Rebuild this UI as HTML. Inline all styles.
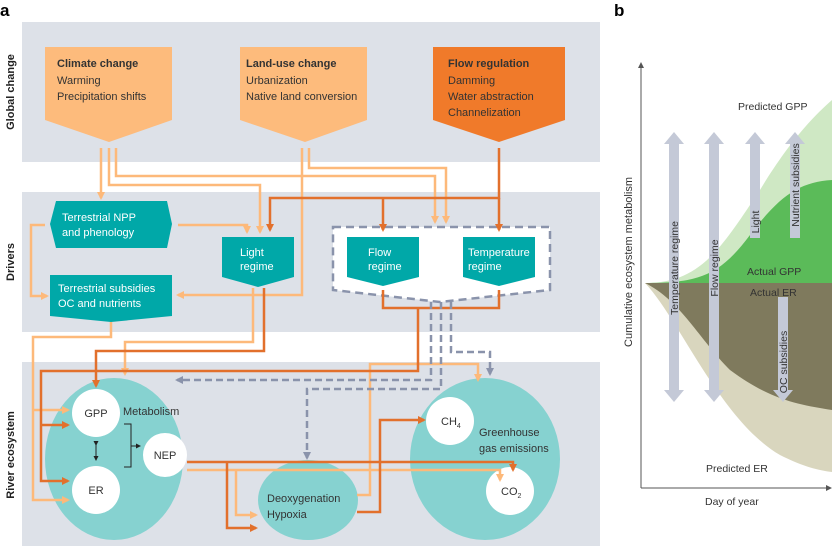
<!DOCTYPE html>
<html><head><meta charset="utf-8"><style>
html,body{margin:0;padding:0;background:#fff;}
svg{display:block;font-family:"Liberation Sans",sans-serif;}
</style></head><body>
<svg width="832" height="546" viewBox="0 0 832 546" xmlns="http://www.w3.org/2000/svg">
<defs>
<marker id="ml" markerWidth="8" markerHeight="8" refX="6" refY="4" orient="auto" markerUnits="userSpaceOnUse"><path d="M0,0 L8,4 L0,8 Z" fill="#fdb97a"/></marker>
<marker id="md" markerWidth="8" markerHeight="8" refX="6" refY="4" orient="auto" markerUnits="userSpaceOnUse"><path d="M0,0 L8,4 L0,8 Z" fill="#e2702c"/></marker>
<marker id="mg" markerWidth="8" markerHeight="8" refX="6" refY="4" orient="auto" markerUnits="userSpaceOnUse"><path d="M0,0 L8,4 L0,8 Z" fill="#8a93ab"/></marker>
<marker id="mk" markerWidth="5" markerHeight="5" refX="4" refY="2.5" orient="auto" markerUnits="userSpaceOnUse"><path d="M0,0 L5,2.5 L0,5 Z" fill="#222"/></marker>
</defs>
<text x="0" y="16" font-size="17" font-weight="bold">a</text>
<text x="614" y="16" font-size="17" font-weight="bold">b</text>
<rect x="22" y="22" width="578" height="140" fill="#dde1e8"/>
<rect x="22" y="192" width="578" height="140" fill="#dde1e8"/>
<rect x="22" y="362" width="578" height="184" fill="#dde1e8"/>
<g font-size="11" font-weight="bold" fill="#222">
<text transform="translate(14,92) rotate(-90)" text-anchor="middle">Global change</text>
<text transform="translate(14,262) rotate(-90)" text-anchor="middle">Drivers</text>
<text transform="translate(14,455) rotate(-90)" text-anchor="middle">River ecosystem</text>
</g>
<path d="M45,47 H172 V120 L109,142 L45,120 Z" fill="#fdbb7c"/>
<path d="M240,47 H367 V120 L305,142 L240,120 Z" fill="#fdbb7c"/>
<path d="M433,47 H565 V120 L499,142 L433,120 Z" fill="#f07a2a"/>
<g font-size="11" fill="#333">
<text x="57" y="67" font-weight="bold">Climate change</text>
<text x="57" y="84">Warming</text>
<text x="57" y="100">Precipitation shifts</text>
<text x="246" y="67" font-weight="bold">Land-use change</text>
<text x="246" y="84">Urbanization</text>
<text x="246" y="100">Native land conversion</text>
<text x="448" y="67" font-weight="bold">Flow regulation</text>
<text x="448" y="84">Damming</text>
<text x="448" y="100">Water abstraction</text>
<text x="448" y="116">Channelization</text>
</g>
<path d="M333,227 H550 V290 L440,302 L333,290 Z" fill="#fff" stroke="#8a93ab" stroke-width="2.5" stroke-dasharray="8,5"/>
<path d="M56,201 H167 L172,224 L167,248 H56 L50,224 Z" fill="#00a8a8"/>
<path d="M222,237 H294 V277 L258,287 L222,277 Z" fill="#00a8a8"/>
<path d="M50,275 H172 V316 L111,322 L50,316 Z" fill="#00a8a8"/>
<path d="M347,237 H419 V277 L383,286 L347,277 Z" fill="#00a8a8"/>
<path d="M463,237 H535 V277 L499,286 L463,277 Z" fill="#00a8a8"/>
<g font-size="11" fill="#fff">
<text x="62" y="221">Terrestrial NPP</text>
<text x="62" y="236">and phenology</text>
<text x="240" y="256">Light</text>
<text x="240" y="270">regime</text>
<text x="58" y="292">Terrestrial subsidies</text>
<text x="58" y="307">OC and nutrients</text>
<text x="368" y="256">Flow</text>
<text x="368" y="270">regime</text>
<text x="468" y="256">Temperature</text>
<text x="468" y="270">regime</text>
</g>
<ellipse cx="114" cy="459" rx="69" ry="81" fill="#86d2d0"/>
<ellipse cx="308" cy="500" rx="50" ry="40" fill="#86d2d0"/>
<ellipse cx="485" cy="459" rx="75" ry="81" fill="#86d2d0"/>
<circle cx="96" cy="413" r="24" fill="#fff"/>
<circle cx="96" cy="490" r="24" fill="#fff"/>
<circle cx="165" cy="455" r="22" fill="#fff"/>
<circle cx="450" cy="421" r="24" fill="#fff"/>
<circle cx="510" cy="491" r="24" fill="#fff"/>
<g font-size="11" fill="#333">
<text x="96" y="417" text-anchor="middle">GPP</text>
<text x="96" y="494" text-anchor="middle">ER</text>
<text x="165" y="459" text-anchor="middle">NEP</text>
<text x="123" y="415">Metabolism</text>
<text x="267" y="502">Deoxygenation</text>
<text x="267" y="518">Hypoxia</text>
<text x="441" y="425">CH<tspan font-size="7" dy="3">4</tspan></text>
<text x="501" y="495">CO<tspan font-size="7" dy="3">2</tspan></text>
<text x="479" y="436">Greenhouse</text>
<text x="479" y="452">gas emissions</text>
</g>
<line x1="96" y1="445" x2="96" y2="460" stroke="#222" stroke-width="1" marker-start="url(#mk)" marker-end="url(#mk)"/>
<path d="M124,424 H131 V467 H124 M131,446 H140" fill="none" stroke="#222" stroke-width="1" marker-end="url(#mk)"/>
<g fill="none" stroke="#fdb97a" stroke-width="2.5" marker-end="url(#ml)">
<path d="M101,148 V198"/>
<path d="M109,148 V185 H260 V232"/>
<path d="M116,148 V176 H435 V222"/>
<path d="M302,148 V295 H178"/>
<path d="M309,148 V168 H446 V222"/>
<path d="M178,225 H247 V232"/>
<path d="M45,225 H31 V296 H47"/>
<path d="M253,288 V342 H125 V374"/>
<path d="M111,322 V337 H33 V500 H68"/>
<path d="M33,410 H68"/>
<path d="M357,495 H370 V364 H478 V380"/>
<path d="M187,470 H500 V480"/>
<path d="M236,470 V515 H256"/>
</g>
<g fill="none" stroke="#e2702c" stroke-width="2.5" marker-end="url(#md)">
<path d="M499,148 V198 H270 V230"/>
<path d="M383,198 V230"/>
<path d="M499,198 V230"/>
<path d="M264,288 V351 H96 V386"/>
<path d="M383,290 V308 H499 V290" marker-end="none"/>
<path d="M418,308 V371 H41 V481 H68"/>
<path d="M41,425 H68"/>
<path d="M187,462 H513 V470"/>
<path d="M227,462 V528 H256"/>
<path d="M357,512 H380 V420 H424"/>
</g>
<g fill="none" stroke="#8a93ab" stroke-width="2.5" stroke-dasharray="7,4" marker-end="url(#mg)">
<path d="M431,302 V380 H177"/>
<path d="M441,302 V389 H307 V458"/>
<path d="M451,302 V352 H490 V374"/>
</g>
<path d="M645,283 C700,283 720,250 760,190 C790,140 815,115 832,100 V283 Z" fill="#cfe8c4"/>
<path d="M645,283 C700,283 720,275 750,235 C780,195 800,182 832,180 V283 Z" fill="#5bbb59"/>
<path d="M645,283 C680,320 720,420 780,455 C800,465 815,470 832,472 V283 Z" fill="#d9d6be"/>
<path d="M645,283 C680,300 700,340 730,370 C770,400 800,405 832,410 V283 Z" fill="#7f7a5d"/>
<g fill="#c4c9d7">
<path d="M674,132 L684,144 H679 V390 H684 L674,402 L664,390 H669 V144 H664 Z"/>
<path d="M714,132 L724,144 H719 V390 H724 L714,402 L704,390 H709 V144 H704 Z"/>
<path d="M755,132 L765,144 H760 V238 H750 V144 H745 Z"/>
<path d="M795,132 L805,144 H800 V238 H790 V144 H785 Z"/>
<path d="M778,297 H788 V390 H793 L783,402 L773,390 H778 Z"/>
</g>
<g font-size="10.5" fill="#333">
<text transform="translate(678,268) rotate(-90)" text-anchor="middle">Temperature regime</text>
<text transform="translate(718,268) rotate(-90)" text-anchor="middle">Flow regime</text>
<text transform="translate(759,222) rotate(-90)" text-anchor="middle">Light</text>
<text transform="translate(799,185) rotate(-90)" text-anchor="middle">Nutrient subsidies</text>
<text transform="translate(787,362) rotate(-90)" text-anchor="middle">OC subsidies</text>
<text x="738" y="110">Predicted GPP</text>
<text x="747" y="275">Actual GPP</text>
<text x="750" y="296">Actual ER</text>
<text x="706" y="472">Predicted ER</text>
<text x="705" y="505">Day of year</text>
<text transform="translate(632,262) rotate(-90)" text-anchor="middle" font-size="11">Cumulative ecosystem metabolism</text>
</g>
<path d="M641,488 V65 M641,488 H829" stroke="#555" stroke-width="1" fill="none"/>
<path d="M638,68 L641,62 L644,68 Z M826,485 L832,488 L826,491 Z" fill="#555"/>
</svg>
</body></html>
